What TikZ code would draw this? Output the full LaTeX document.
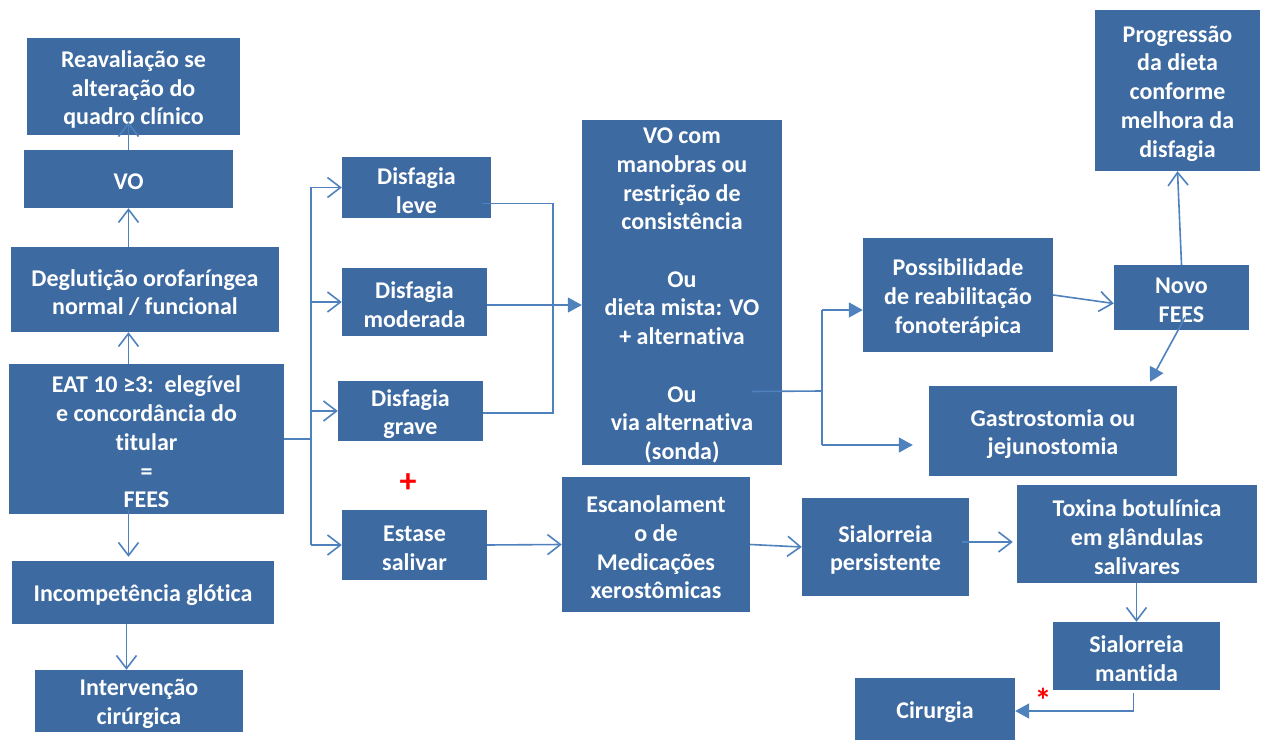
\documentclass[tikz,border=0pt]{standalone}
\usepackage{fontspec}
\setmainfont{Carlito}[Ligatures=NoCommon]
\usetikzlibrary{arrows.meta}
\definecolor{boxblue}{RGB}{61,106,160}
\definecolor{lineblue}{RGB}{79,129,189}
\tikzset{
  box/.style={fill=boxblue, draw=none, inner sep=0pt},
  boxtext/.style={text=white, inner sep=0pt, align=center,
    font=\bfseries\fontsize{24}{28.7}\selectfont},
  line/.style={draw=lineblue, line width=1.6pt},
  oarr/.style={line, -{Straight Barb[length=13pt,width=20pt,line width=1.6pt]}},
  farr/.style={line, -{Triangle[length=14pt,width=15pt]}},
  redmark/.style={text=red, font=\bfseries\fontsize{34}{34}\selectfont, inner sep=0pt}
}
\newcommand\boxnode[6]{\node[box, minimum width={#4pt-#2pt}, minimum height={#5pt-#3pt}] (#1) at ({(#2+#4)/2},{(#3+#5)/2}) {};
\node[boxtext] (#1-t) at ([yshift=-3pt]#1.center) {#6};}
\begin{document}
\begin{tikzpicture}[x=1pt,y=-1pt]
\useasboundingbox (0,0) rectangle (1270,754);
% left column
\boxnode{reav}{27}{38}{240}{135}{Reavaliação se\\alteração do\\quadro clínico}
\boxnode{vo}{24}{150}{233}{208}{VO}
\boxnode{degl}{11}{247}{279}{332}{Deglutição orofaríngea\\normal / funcional}
\boxnode{eat}{9}{364}{284}{514}{EAT 10 ≥3:\ \ elegível\\e concordância do\\titular\\=\\FEES}
\boxnode{incomp}{12}{561}{274}{624}{Incompetência glótica}
\boxnode{interv}{35}{670}{243}{732}{Intervenção\\cirúrgica}
% disfagia column
\boxnode{dleve}{342}{157}{491}{218}{Disfagia\\leve}
\boxnode{dmod}{342}{268}{487}{336}{Disfagia\\moderada}
\boxnode{dgrave}{338}{381}{483}{441}{Disfagia\\grave}
\boxnode{estase}{342}{510}{487}{580}{Estase\\salivar}
% middle
\boxnode{vocom}{582}{120}{782}{465}{VO com\\manobras ou\\restrição de\\consistência\\[28.7pt]Ou\\dieta mista: VO\\+ alternativa\\[28.7pt]Ou\\via alternativa\\(sonda)}
\boxnode{escan}{562}{477}{750}{612}{Escanolament\\o de\\Medicações\\xerostômicas}
% right
\boxnode{possib}{863}{238}{1053}{352}{Possibilidade\\de reabilitação\\fonoterápica}
\boxnode{novo}{1114}{265}{1249}{330}{Novo\\FEES}
\boxnode{progress}{1095}{10}{1260}{171}{Progressão\\da dieta\\conforme\\melhora da\\disfagia}
\boxnode{gastro}{929}{386}{1177}{476}{Gastrostomia ou\\jejunostomia}
\boxnode{sial}{802}{498}{969}{596}{Sialorreia\\persistente}
\boxnode{toxina}{1017}{485}{1257}{583}{Toxina botulínica\\em glândulas\\salivares}
\boxnode{mantida}{1053}{622}{1220}{690}{Sialorreia\\mantida}
\boxnode{cirurgia}{855}{678}{1015}{740}{Cirurgia}
% marks
\node[redmark] (plus) at (408,483) {+};
\node[redmark] (star) at (1043,700) {*};
% left column arrows
\coordinate (reavin) at ([yshift=13pt]reav.south);
\draw[oarr] (vo.north) -- (vo.north |- reavin);
\draw[oarr] (degl.north -| vo.south) -- (vo.south);
\draw[oarr] (eat.north -| vo.south) -- (degl.south -| vo.south);
\draw[oarr] ([yshift=4pt]eat.south -| vo.south) -- ([yshift=4pt]incomp.north -| vo.south);
\draw[oarr] ([xshift=-2pt]incomp.south -| vo.south) -- ([xshift=-2pt]interv.north -| vo.south);
% branch to disfagia
\coordinate (bx) at (311,439);
\draw[line] (eat.east) -- (bx);
\draw[line] (bx |- dleve.west) -- (bx |- estase.west);
\draw[oarr] (bx |- dleve.west) -- (dleve.west);
\draw[oarr] (bx |- dmod.west) -- (dmod.west);
\draw[oarr] (bx |- dgrave.west) -- (dgrave.west);
\draw[oarr] (bx |- estase.west) -- (estase.west);
% merge to VO com
\coordinate (mx) at (553,413);
\draw[line] ([shift={(-9,16)}]dleve.east) -| (mx) -- (dgrave.east |- mx);
\draw[farr] ([yshift=-3pt]dmod.east) -- ([yshift=-3pt]dmod.east -| vocom.west);
% VO com to right
\coordinate (vx) at (822,391);
\draw[line] ([shift={(-30,99)}]vocom.east) -- (vx);
\draw[line] (vx |- 0,310) -- (vx |- 0,445);
\draw[farr] (vx |- 0,310) -- ([yshift=-15pt]possib.west);
\draw[farr] (vx |- 0,445) -- ([shift={(-16,14)}]gastro.west);
\draw[oarr] (possib.east) -- ([yshift=-6pt]novo.west);
\draw[oarr] (novo.north) -- (progress.south);
\draw[farr] ([shift={(3.5,20)}]novo.center) -- ([shift={(97,-4)}]gastro.north);
% salivary chain
\draw[oarr] (estase.east) -- (escan.west);
\draw[oarr] (escan.east) -- (sial.west);
\draw[oarr] ([shift={(-7,-5)}]sial.east) -- ([shift={(-4,8)}]toxina.west);
\draw[oarr] (toxina.south -| mantida.north) -- (mantida.north);
\draw[farr] ([shift={(-3,3)}]mantida.south) |- ([yshift=-2pt]cirurgia.east);
\end{tikzpicture}
\end{document}
